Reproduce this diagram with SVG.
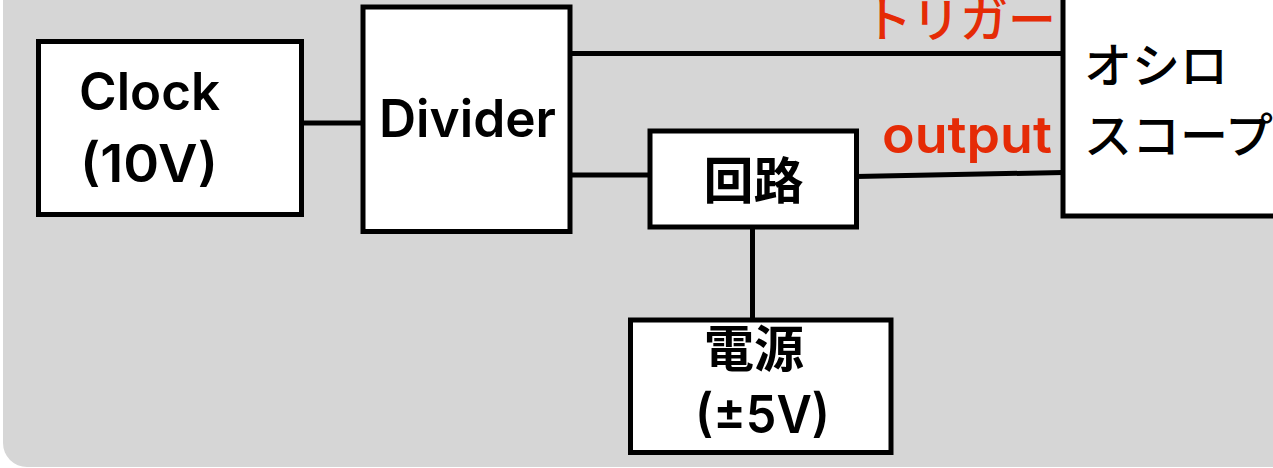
<svg xmlns="http://www.w3.org/2000/svg" width="1273" height="468" viewBox="0 0 1273 468">
<style>
.box{fill:#ffffff;stroke:#000000;stroke-width:5}
.wire{stroke:#000000;stroke-width:5;fill:none}
.lat{font-family:Inter,"Liberation Sans",Arial,sans-serif;font-weight:600;font-size:52px;fill:#000000}
.jp{font-family:"Noto Sans CJK JP",sans-serif;font-weight:700;fill:#000000}
.kana{font-family:"Noto Sans CJK JP",sans-serif;font-weight:500;font-size:48px;fill:#000000}
.red{fill:#e52b06}
</style>
<rect x="3" y="-40" width="1320" height="507" rx="24" ry="24" fill="#d6d6d6"/>
<g id="connectors">
<line class="wire" x1="301" y1="123" x2="363" y2="123"/>
<line class="wire" x1="570" y1="53.5" x2="1063" y2="53.5"/>
<line class="wire" x1="570" y1="175" x2="650" y2="175"/>
<line class="wire" x1="856" y1="176.5" x2="1063" y2="172.5"/>
<line class="wire" x1="752.5" y1="227" x2="752.5" y2="320"/>
</g>
<g id="clock">
<rect class="box" x="38.5" y="41.5" width="263" height="173"/>
<text class="lat" x="79" y="110" textLength="141" lengthAdjust="spacingAndGlyphs">Clock</text>
<text class="lat" x="80" y="182" textLength="138" lengthAdjust="spacingAndGlyphs">(10V)</text>
</g>
<g id="divider">
<rect class="box" x="363" y="7" width="207" height="224.5"/>
<text class="lat" x="379" y="137" textLength="177" lengthAdjust="spacingAndGlyphs">Divider</text>
</g>
<g id="circuit">
<rect class="box" x="650" y="131" width="206.5" height="96"/>
<text class="jp" x="703.5" y="198.5" font-size="50">回路</text>
</g>
<g id="power">
<rect class="box" x="630.5" y="320" width="260.5" height="132.5"/>
<text class="jp" x="704" y="367" font-size="50">電源</text>
<text class="lat" x="695" y="433" textLength="135" lengthAdjust="spacingAndGlyphs">(±5V)</text>
</g>
<g id="scope">
<rect class="box" x="1063" y="-10" width="300" height="226"/>
<text class="kana" x="1084" y="83">オシロ</text>
<text class="kana" x="1084" y="153">スコープ</text>
</g>
<g id="labels">
<text class="kana red" x="1056" y="37" text-anchor="end">トリガー</text>
<text class="lat red" x="882" y="153.3" textLength="170" lengthAdjust="spacingAndGlyphs">output</text>
</g>
</svg>
